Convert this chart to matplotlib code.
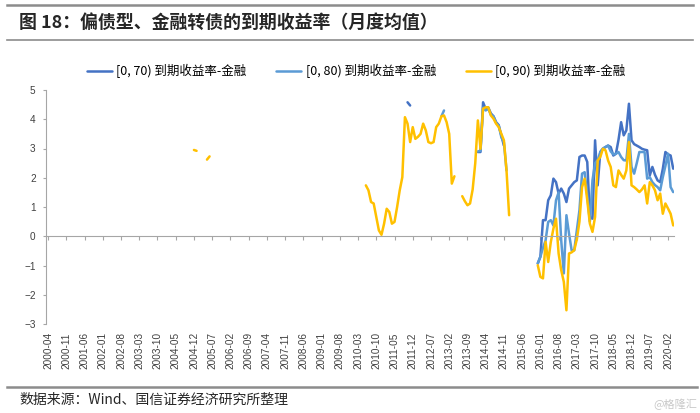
import numpy as np
import pandas as pd
import matplotlib
matplotlib.use("Agg")
import matplotlib.pyplot as plt
from matplotlib.lines import Line2D

plt.rcParams['font.family'] = ['Noto Sans CJK SC', 'DejaVu Sans']

# monthly category axis, labels every 7 months
months = pd.period_range("2000-04", "2020-04", freq="M")
tick_step = 7

labels = ["[0, 70) 到期收益率-金融", "[0, 80) 到期收益率-金融", "[0, 90) 到期收益率-金融"]
colors = ["#4472C4", "#5B9BD5", "#FFC000"]

# (first month, monthly values) pieces, gaps are missing data
ytm_070 = [
    ("2011-10", [4.58, 4.47]),
    ("2014-01", [2.88, 2.88, 4.58, 4.35, 4.4, 4.2, 4.1, 3.9, 3.8, 3.45, 3.1]),
    ("2015-12", [-0.93, -0.7, 0.55, 0.55, 1.23, 1.4, 1.97, 1.85, 1.46, 1.63,
                 1.46, 1.17, 1.63, 1.74, 1.85, 1.91, 2.71, 2.76, 2.76, 2.54,
                 0.66, 0.6, 3.28, 1.74, 2.88, 2.99, 3.05, 3.1, 3.05, 2.76,
                 2.82, 3.3, 3.9, 3.45, 3.62, 4.53, 3.28, 3.15, 3.1, 3.05,
                 2.99, 2.96, 2.94, 2.08, 2.37, 2.1, 1.91, 1.85, 2.3, 2.88,
                 2.8, 2.76, 2.31]),
]
ytm_080 = [
    ("2012-11", [4.1, 4.3]),
    ("2014-01", [2.9, 2.92, 4.4, 4.3, 4.36, 4.15, 4.1, 3.88, 3.79, 3.39, 3.2, 2.25]),
    ("2015-12", [-0.93, -0.7, -0.4, -0.14, 0.49, 0.55, 0.37, 1.23, 1.5, -0.14,
                 -1.27, 0.72, 0.09, -0.48, -0.48, 0.2, 0.89, 2.14, 2.19, 1.4,
                 0.5, 1.91, 2.5, 2.6, 2.88, 3.0, 3.05, 3.1, 2.9, 2.8,
                 2.82, 2.88, 2.71, 2.6, 2.59, 3.5, 2.37, 2.14, 2.5, 2.88,
                 2.88, 2.88, 1.97, 2.02, 1.85, 1.75, 1.68, 1.57, 2.02, 2.4,
                 2.82, 1.68, 1.51]),
]
ytm_090 = [
    ("2004-12", [2.95, 2.92]),
    ("2005-05", [2.62, 2.73]),
    ("2010-06", [1.74, 1.57, 1.17, 1.12, 0.66, 0.2, 0.05, 0.43, 0.94, 0.83,
                 0.43, 0.49, 1.0, 1.57, 2.02, 4.07, 3.85, 3.22, 3.73, 3.33,
                 3.4, 3.5, 3.85, 3.62, 3.22, 3.18, 3.22, 3.73, 3.85, 4.1,
                 4.13, 3.9, 3.5, 1.8, 2.05]),
    ("2013-07", [1.37, 1.2, 1.06]),
    ("2013-10", [1.12, 1.6, 2.5, 3.96, 2.99, 4.36, 4.41, 4.41, 4.13, 4.02,
                 3.85, 3.73, 3.5, 3.28, 2.25, 0.72]),
    ("2015-12", [-0.99, -1.39, -1.44, -0.19, -0.88, -0.2, 0.26, 0.6, -0.59, -1.16,
                 -1.56, -2.53, -0.59, -0.55, -0.48, -0.1, 0.5, 1.68, 1.97, 1.23,
                 0.43, 0.15, 0.66, 2.59, 2.71, 2.99, 2.94, 2.59, 2.37, 1.74,
                 1.68, 2.25, 2.1, 1.97, 2.25, 3.22, 1.74, 1.68, 1.6, 1.51,
                 1.6, 1.74, 1.12, 1.85, 1.74, 1.57, 1.23, 1.46, 0.77, 1.12,
                 0.95, 0.77, 0.37]),
]


def to_series(pieces):
    s = pd.Series(np.nan, index=months)
    for start, vals in pieces:
        i = months.get_loc(pd.Period(start, freq="M"))
        s.iloc[i:i + len(vals)] = vals
    return s


grey = "#a6a6a6"
fig = plt.figure(figsize=(7, 4.13), dpi=100)
ax = fig.add_axes((46 / 700, 1 - 324 / 413, (674 - 46) / 700, (324 - 90) / 413))

x = np.arange(len(months))
for pieces, lab, c in zip([ytm_070, ytm_080, ytm_090], labels, colors):
    ax.plot(x, to_series(pieces).values, color=c, lw=1.8, label=lab,
            solid_capstyle="round", solid_joinstyle="round")

ax.set_xlim(-0.8, 240.3)
ax.set_ylim(-3, 5)
ax.set_yticks(range(-3, 6))

for side in ["top", "right"]:
    ax.spines[side].set_visible(False)
ax.spines["left"].set_color(grey)
ax.spines["left"].set_linewidth(0.8)
ax.spines["bottom"].set_position(("data", 0))
ax.spines["bottom"].set_color(grey)
ax.spines["bottom"].set_linewidth(0.8)

ticks = x[::tick_step]
ax.set_xticks(ticks)
ax.tick_params(axis="x", direction="out", length=3, color=grey, width=0.8, labelbottom=False)
ax.tick_params(axis="y", direction="out", length=2.5, color=grey, width=0.8,
               labelsize=7.2, labelcolor="#404040", pad=5)

sec = ax.secondary_xaxis("bottom")
sec.set_xticks(ticks, labels=months[::tick_step].strftime("%Y-%m"))
sec.tick_params(axis="x", length=0, rotation=90, labelsize=7.2, labelcolor="#404040", pad=6)
sec.spines["bottom"].set_visible(False)
for t in sec.get_xticklabels() + ax.get_yticklabels():
    t.set_fontfamily("Liberation Sans")

fig.legend(loc="center", bbox_to_anchor=(356 / 700, 1 - 71 / 413), ncol=3, frameon=False,
           fontsize=9, handlelength=2.0, handletextpad=0.35, columnspacing=2.4)

# header and footer rules
fig.add_artist(Line2D([7 / 700, 693 / 700], [1 - 5 / 413] * 2, color="#8c8c8c", lw=1.8))
fig.add_artist(Line2D([7 / 700, 693 / 700], [1 - 40 / 413] * 2, color="#8c8c8c", lw=1.2))
fig.add_artist(Line2D([7 / 700, 697 / 700], [1 - 387 / 413] * 2, color="#8c8c8c", lw=1.8))

fig.text(19 / 700, 1 - 23 / 413, "图 18：偏债型、金融转债的到期收益率（月度均值）",
         fontsize=12.9, fontweight="bold", color="#262626", va="center", ha="left")
fig.text(19 / 700, 1 - 400 / 413, "数据来源：Wind、国信证券经济研究所整理",
         fontsize=10, color="#262626", va="center", ha="left")
fig.text(697 / 700, 1 - 404 / 413, "@格隆汇", fontsize=8, color="#c8c8c8",
         va="center", ha="right")

fig.savefig("out.png", dpi=100)
